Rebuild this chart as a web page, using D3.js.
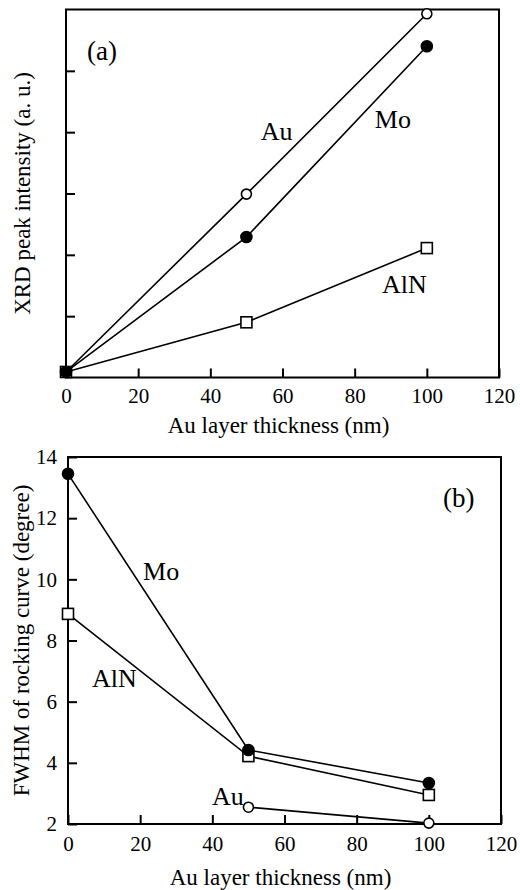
<!DOCTYPE html>
<html>
<head>
<meta charset="utf-8">
<script src="https://cdn.jsdelivr.net/npm/d3@7"></script>
<style>
  html, body { margin: 0; padding: 0; background: #fff; }
  svg { display: block; }
</style>
</head>
<body>
<svg id="chart" width="520" height="890"></svg>
<script>
// ---------- data ----------
const thickness = [0, 50, 100];
const thicknessAuB = [50, 100];

// (a) XRD peak intensity (a. u.)
const xrdAu  = [0.09, 2.99, 5.93];
const xrdMo  = [0.09, 2.29, 5.40];
const xrdAlN = [0.09, 0.90, 2.11];

// (b) FWHM of rocking curve (degree)
const fwhmMo  = [13.45, 4.42, 3.34];
const fwhmAlN = [8.87, 4.22, 2.95];
const fwhmAu  = [2.55, 2.03];

const xTicks = [0, 20, 40, 60, 80, 100, 120];
const yTicksA = [1, 2, 3, 4, 5];
const yTicksB = [2, 4, 6, 8, 10, 12, 14];

const xTitle = "Au layer thickness (nm)";
const yTitleA = "XRD peak intensity (a. u.)";
const yTitleB = "FWHM of rocking curve (degree)";

const FONT = "Liberation Serif";

// ---------- drawing ----------
const svg = d3.select("#chart");

function panel(opts) {
  const g = svg.append("g");
  const x = d3.scaleLinear().domain([0, 120]).range([opts.left, opts.right]);
  const y = d3.scaleLinear().domain(opts.yDomain).range([opts.bottom, opts.top]);

  // x axis
  const xAxis = d3.axisBottom(x).tickValues(xTicks).tickFormat(d3.format("d"))
    .tickSize(-9).tickPadding(opts.xPad);
  const gx = g.append("g").attr("transform", `translate(0,${opts.bottom})`).call(xAxis)
    .attr("font-family", FONT).attr("font-size", 21);
  gx.select(".domain").remove();
  gx.selectAll(".tick line").attr("stroke", "#000").attr("stroke-width", 2);
  gx.selectAll(".tick text").attr("fill", "#000");

  // y axis
  const yAxis = d3.axisLeft(y).tickValues(opts.yTicks).tickSize(-9).tickPadding(11)
    .tickFormat(opts.yLabels ? d3.format("d") : () => "");
  const gy = g.append("g").attr("transform", `translate(${opts.left},0)`).call(yAxis)
    .attr("font-family", FONT).attr("font-size", 21);
  gy.select(".domain").remove();
  gy.selectAll(".tick line").attr("stroke", "#000").attr("stroke-width", 2);
  gy.selectAll(".tick text").attr("fill", "#000");

  // frame
  g.append("rect")
    .attr("x", opts.left).attr("y", opts.top)
    .attr("width", opts.right - opts.left).attr("height", opts.bottom - opts.top)
    .attr("fill", "none").attr("stroke", "#000").attr("stroke-width", 2);

  // titles
  g.append("text")
    .attr("x", (opts.left + opts.right) / 2 - 4)
    .attr("y", opts.xTitleY)
    .attr("text-anchor", "middle")
    .attr("font-family", FONT).attr("font-size", 23)
    .text(xTitle);
  g.append("text")
    .attr("transform", `translate(${opts.yTitleX},${(opts.top + opts.bottom) / 2}) rotate(-90)`)
    .attr("text-anchor", "middle")
    .attr("font-family", FONT).attr("font-size", 23)
    .text(opts.yTitle);

  return { g, x, y };
}

function series(p, xs, ys, marker) {
  const pts = xs.map((d, i) => [d, ys[i]]);
  const line = d3.line().x(d => p.x(d[0])).y(d => p.y(d[1]));
  p.g.append("path").datum(pts)
    .attr("d", line).attr("fill", "none")
    .attr("stroke", "#000").attr("stroke-width", 1.6);
  const m = p.g.append("g");
  if (marker === "square") {
    m.selectAll("rect").data(pts).join("rect")
      .attr("x", d => p.x(d[0]) - 5.5).attr("y", d => p.y(d[1]) - 5.5)
      .attr("width", 11).attr("height", 11)
      .attr("fill", "#fff").attr("stroke", "#000").attr("stroke-width", 1.6);
  } else {
    m.selectAll("circle").data(pts).join("circle")
      .attr("cx", d => p.x(d[0])).attr("cy", d => p.y(d[1]))
      .attr("r", marker === "filled" ? 5.5 : 5)
      .attr("fill", marker === "filled" ? "#000" : "#fff")
      .attr("stroke", "#000").attr("stroke-width", 1.6);
  }
}

function label(p, xv, yv, txt, size) {
  p.g.append("text").attr("x", p.x(xv)).attr("y", p.y(yv))
    .attr("font-family", FONT).attr("font-size", size).text(txt);
}

// ---- panel (a) ----
const pa = panel({
  left: 66, right: 499, top: 9.5, bottom: 377.5,
  yDomain: [0, 6], yTicks: yTicksA, yLabels: false,
  xPad: 11, xTitleY: 433, yTitleX: 30, yTitle: yTitleA
});
series(pa, thickness, xrdAlN, "square");
series(pa, thickness, xrdAu, "open");
series(pa, thickness, xrdMo, "filled");
label(pa, 5.8, 5.18, "(a)", 27);
label(pa, 54, 3.87, "Au", 26);
label(pa, 85.6, 4.07, "Mo", 26);
label(pa, 87.6, 1.38, "AlN", 26);

// ---- panel (b) ----
const pb = panel({
  left: 68, right: 501, top: 457, bottom: 824,
  yDomain: [2, 14], yTicks: yTicksB, yLabels: true,
  xPad: 12, xTitleY: 885, yTitleX: 29, yTitle: yTitleB
});
series(pb, thicknessAuB, fwhmAu, "open");
series(pb, thickness, fwhmAlN, "square");
series(pb, thickness, fwhmMo, "filled");
label(pb, 103.9, 12.36, "(b)", 27);
label(pb, 20.8, 9.98, "Mo", 26);
label(pb, 6.65, 6.48, "AlN", 26);
label(pb, 39.9, 2.62, "Au", 26);
</script>
</body>
</html>
